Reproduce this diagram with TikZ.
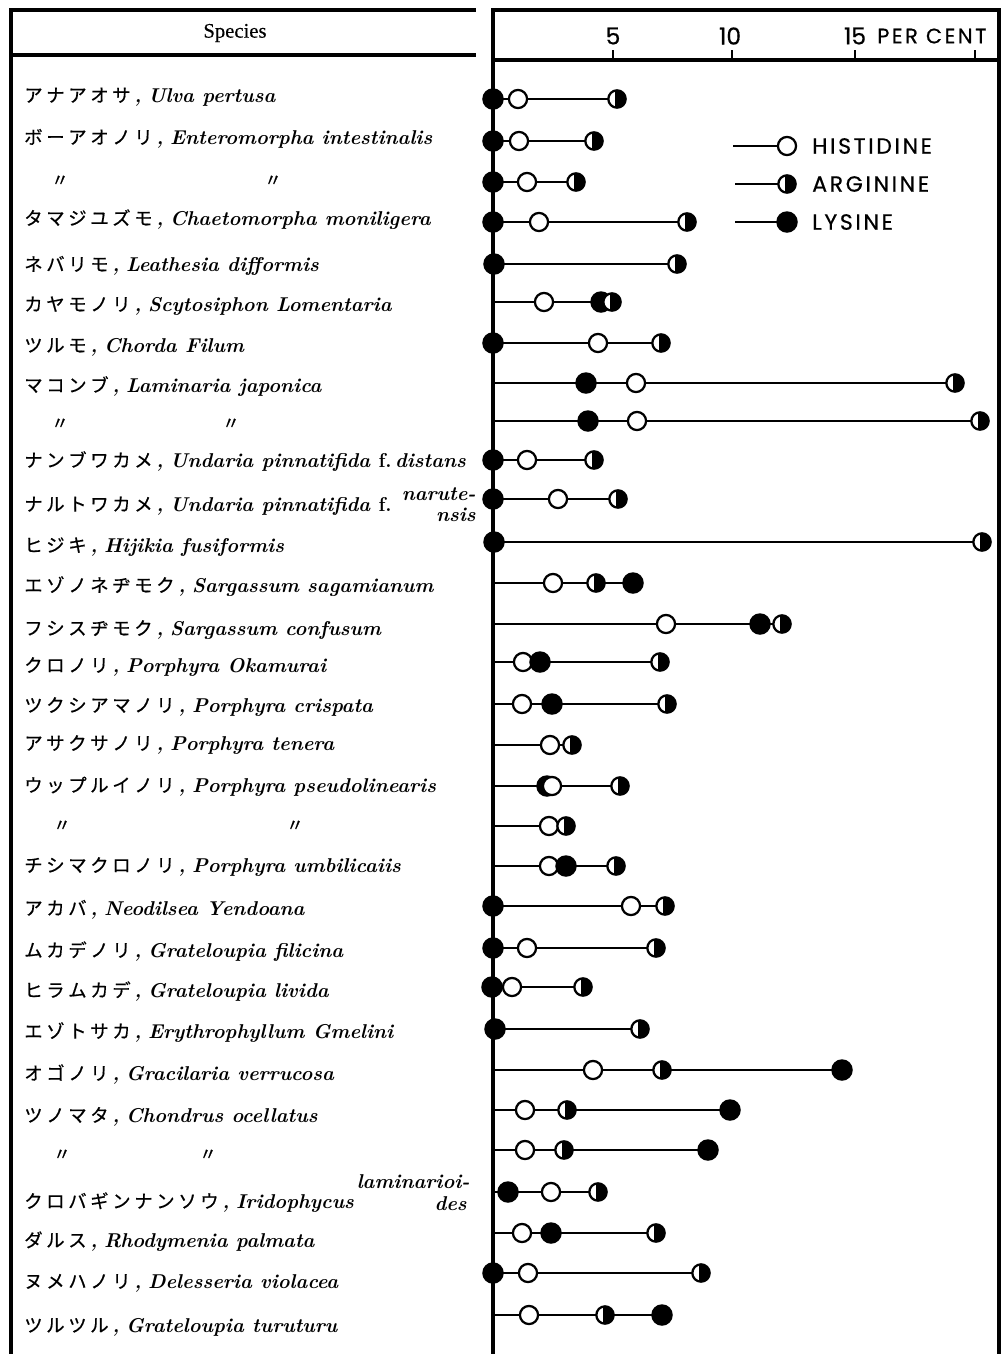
\documentclass[tikz,border=0pt]{standalone}
\usepackage{fontspec}
\newfontfamily\jp[FakeBold=0.5]{Noto Sans CJK JP}
\newfontfamily\tms[FakeBold=0.3]{Liberation Serif}
\newfontfamily\geo[FakeBold=0.6]{Poppins}
\newfontfamily\geos[LetterSpace=12,FakeBold=0.6]{Poppins}
\usetikzlibrary{backgrounds}
\pgfdeclarelayer{paper}
\pgfsetlayers{paper,background,main}
\makeatletter
\def\kana#1{\kana@i#1\relax}
\def\kana@i#1{\ifx\relax#1\else\makebox[16.5pt][l]{#1}\expandafter\kana@i\fi}
\makeatother
\newcommand\jpk[1]{{\jp\mdseries\upshape\fontsize{13.8}{14}\selectfont\kana{#1}},\hspace{5pt}}
\begin{document}
\begin{tikzpicture}[x=0.75pt,y=-0.75pt,
 conn/.style={line width=2.1pt},
 frame/.style={line width=2.3pt},
 tick/.style={line width=1.4pt},
 his/.style={circle,draw,fill=white,line width=1.7pt,minimum size=13.6pt,inner sep=0pt},
 lys/.style={circle,draw,fill=black,line width=1.7pt,minimum size=14.4pt,inner sep=0pt},
 arg/.style={circle,draw,fill=white,line width=1.7pt,minimum size=13pt,inner sep=0pt,
   path picture={\fill[black] ([xshift=-1.3pt]path picture bounding box.north) rectangle (path picture bounding box.south east);}},
 sp/.style={anchor=base west,inner sep=0pt,font=\fontsize{15}{18}\selectfont\bfseries\itshape},
 spr/.style={anchor=base east,inner sep=0pt,font=\fontsize{15}{18}\selectfont\bfseries\itshape},
 ditto/.style={inner sep=0pt,font=\jp\fontsize{13}{15}\selectfont},
 num/.style={inner sep=0pt,font=\geo\fontsize{17.5}{20}\selectfont},
 leg/.style={anchor=west,inner sep=0pt,font=\geos\fontsize{16.5}{20}\selectfont},
]
\useasboundingbox (0,0) rectangle (1006,1354);
\begin{pgfonlayer}{paper}
\fill[white] (0,0) rectangle (1006,1354);
\end{pgfonlayer}

% ---------- frames ----------
\coordinate (lt0) at (9,10);  \coordinate (lt1) at (476,10);
\coordinate (lh0) at (9,55);  \coordinate (lh1) at (476,55);
\coordinate (lb0) at (11,8);  \coordinate (lb1) at (11,1354);
\draw[frame] (lt0) -- (lt1);
\draw[frame] (lh0) -- (lh1);
\draw[line width=3pt] (lb0) -- (lb1);
\coordinate (ct0) at (493,10);  \coordinate (ct1) at (999,10);
\coordinate (ch0) at (493,60);  \coordinate (ch1) at (999,60);
\coordinate (cr1) at (999,1354);
\coordinate (axT) at (493,8);   \coordinate (axB) at (493,1354);
\draw[frame] (ct0) -- (ct1) -- (cr1);
\draw[frame] (ch0) -- (ch1);
\draw[line width=2.5pt] (axT) -- (axB);
\foreach \x/\n in {613/a,732/b,855/c,975/d}{
  \coordinate (tk\n0) at (\x,50); \coordinate (tk\n1) at (\x,60);
  \draw[tick] (tk\n0) -- (tk\n1);}

% ---------- header texts ----------
\node[inner sep=0pt,font=\tms\fontsize{15.5}{18}\selectfont] (species) at (235,33) {Species};
\node[num] (n5) at (613,36) {5};
\node[num] (n10) at (730,36) {10};
\node[num] (n15) at (855,36) {15};
\node[leg,font=\geos\fontsize{15.7}{18}\selectfont] (pc) at (877,36) {PER CENT};

% ---------- legend ----------
\node[his] (lgh) at (787,146) {};
\node[arg] (lga) at (787,184) {};
\node[lys] (lgl) at (787,222) {};
\coordinate (lgh0) at (733,146);
\coordinate (lga0) at (735,184);
\coordinate (lgl0) at (735,222);
\node[leg] (lth) at (812,146) {HISTIDINE};
\node[leg] (lta) at (812,184) {ARGININE};
\node[leg] (ltl) at (812,222) {LYSINE};

% ---------- species labels ----------
\node[sp] (t1) at (24,102) {\jpk{アナアオサ}Ulva pertusa};
\node[sp] (t2) at (24,144) {\jpk{ボーアオノリ}Enteromorpha intestinalis};
\node[ditto] (t3a) at (60,181) {〃}; \node[ditto] (t3b) at (273,181) {〃};
\node[sp] (t4) at (24,225) {\jpk{タマジユズモ}Chaetomorpha moniligera};
\node[sp] (t5) at (24,271) {\jpk{ネバリモ}Leathesia difformis};
\node[sp] (t6) at (24,311) {\jpk{カヤモノリ}Scytosiphon Lomentaria};
\node[sp] (t7) at (24,352) {\jpk{ツルモ}Chorda Filum};
\node[sp] (t8) at (24,392) {\jpk{マコンブ}Laminaria japonica};
\node[ditto] (t9a) at (60,424) {〃}; \node[ditto] (t9b) at (231,424) {〃};
\node[sp] (t10) at (24,467) {\jpk{ナンブワカメ}Undaria pinnatifida {\upshape f.}\,distans};
\node[sp] (t11) at (24,511) {\jpk{ナルトワカメ}Undaria pinnatifida {\upshape f.}};
\node[spr] (t11a) at (476,500) {narute-};
\node[spr] (t11b) at (476,521) {nsis};
\node[sp] (t12) at (24,552) {\jpk{ヒジキ}Hijikia fusiformis};
\node[sp] (t13) at (24,592) {\jpk{エゾノネヂモク}Sargassum sagamianum};
\node[sp] (t14) at (24,635) {\jpk{フシスヂモク}Sargassum confusum};
\node[sp] (t15) at (24,672) {\jpk{クロノリ}Porphyra Okamurai};
\node[sp] (t16) at (24,712) {\jpk{ツクシアマノリ}Porphyra crispata};
\node[sp] (t17) at (24,750) {\jpk{アサクサノリ}Porphyra tenera};
\node[sp] (t18) at (24,792) {\jpk{ウップルイノリ}Porphyra pseudolinearis};
\node[ditto] (t19a) at (62,826) {〃}; \node[ditto] (t19b) at (295,826) {〃};
\node[sp] (t20) at (24,872) {\jpk{チシマクロノリ}Porphyra umbilicaiis};
\node[sp] (t21) at (24,915) {\jpk{アカバ}Neodilsea Yendoana};
\node[sp] (t22) at (24,957) {\jpk{ムカデノリ}Grateloupia filicina};
\node[sp] (t23) at (24,997) {\jpk{ヒラムカデ}Grateloupia livida};
\node[sp] (t24) at (24,1038) {\jpk{エゾトサカ}Erythrophyllum Gmelini};
\node[sp] (t25) at (24,1080) {\jpk{オゴノリ}Gracilaria verrucosa};
\node[sp] (t26) at (24,1122) {\jpk{ツノマタ}Chondrus ocellatus};
\node[ditto] (t27a) at (62,1155) {〃}; \node[ditto] (t27b) at (208,1155) {〃};
\node[sp] (t28) at (24,1208) {\jpk{クロバギンナンソウ}Iridophycus};
\node[spr] (t28a) at (470,1188) {laminarioi-};
\node[spr] (t28b) at (467,1210) {des};
\node[sp] (t29) at (24,1247) {\jpk{ダルス}Rhodymenia palmata};
\node[sp] (t30) at (24,1288) {\jpk{ヌメハノリ}Delesseria violacea};
\node[sp] (t31) at (24,1332) {\jpk{ツルツル}Grateloupia turuturu};

% ---------- data markers ----------
\foreach \r/\y in {6/302,8/383,9/421,13/583,14/624,15/662,16/704,17/745,18/786,19/826,20/866,25/1070,26/1110,27/1150,28/1192,29/1233,31/1315}{
  \coordinate (r\r s) at (493,\y);}

\node[lys] (r1l) at (493,99) {}; \node[his] (r1h) at (518,99) {}; \node[arg] (r1a) at (617,99) {};
\node[lys] (r2l) at (493,141) {}; \node[his] (r2h) at (519,141) {}; \node[arg] (r2a) at (594,141) {};
\node[lys] (r3l) at (493,182) {}; \node[his] (r3h) at (527,182) {}; \node[arg] (r3a) at (576,182) {};
\node[lys] (r4l) at (493,222) {}; \node[his] (r4h) at (539,222) {}; \node[arg] (r4a) at (687,222) {};
\node[lys] (r5l) at (494,264) {}; \node[arg] (r5a) at (677,264) {};
\node[his] (r6h) at (544,302) {}; \node[lys] (r6l) at (601,302) {}; \node[arg] (r6a) at (612,302) {};
\node[lys] (r7l) at (493,343) {}; \node[his] (r7h) at (598,343) {}; \node[arg] (r7a) at (661,343) {};
\node[lys] (r8l) at (586,383) {}; \node[his] (r8h) at (636,383) {}; \node[arg] (r8a) at (955,383) {};
\node[lys] (r9l) at (588,421) {}; \node[his] (r9h) at (637,421) {}; \node[arg] (r9a) at (980,421) {};
\node[lys] (r10l) at (493,460) {}; \node[his] (r10h) at (527,460) {}; \node[arg] (r10a) at (594,460) {};
\node[lys] (r11l) at (493,499) {}; \node[his] (r11h) at (558,499) {}; \node[arg] (r11a) at (618,499) {};
\node[lys] (r12l) at (494,542) {}; \node[arg] (r12a) at (982,542) {};
\node[his] (r13h) at (553,583) {}; \node[arg] (r13a) at (596,583) {}; \node[lys] (r13l) at (633,583) {};
\node[his] (r14h) at (666,624) {}; \node[lys] (r14l) at (760,624) {}; \node[arg] (r14a) at (782,624) {};
\node[his] (r15h) at (523,662) {}; \node[lys] (r15l) at (540,662) {}; \node[arg] (r15a) at (660,662) {};
\node[his] (r16h) at (522,704) {}; \node[lys] (r16l) at (552,704) {}; \node[arg] (r16a) at (667,704) {};
\node[his] (r17h) at (550,745) {}; \node[arg] (r17a) at (572,745) {};
\node[lys] (r18l) at (547,786) {}; \node[his] (r18h) at (552,786) {}; \node[arg] (r18a) at (620,786) {};
\node[his] (r19h) at (549,826) {}; \node[arg] (r19a) at (566,826) {};
\node[his] (r20h) at (549,866) {}; \node[lys] (r20l) at (566,866) {}; \node[arg] (r20a) at (616,866) {};
\node[lys] (r21l) at (493,906) {}; \node[his] (r21h) at (631,906) {}; \node[arg] (r21a) at (665,906) {};
\node[lys] (r22l) at (493,948) {}; \node[his] (r22h) at (527,948) {}; \node[arg] (r22a) at (656,948) {};
\node[lys] (r23l) at (492,987) {}; \node[his] (r23h) at (512,987) {}; \node[arg] (r23a) at (583,987) {};
\node[lys] (r24l) at (495,1029) {}; \node[arg] (r24a) at (640,1029) {};
\node[his] (r25h) at (593,1070) {}; \node[arg] (r25a) at (662,1070) {}; \node[lys] (r25l) at (842,1070) {};
\node[his] (r26h) at (525,1110) {}; \node[arg] (r26a) at (567,1110) {}; \node[lys] (r26l) at (730,1110) {};
\node[his] (r27h) at (525,1150) {}; \node[arg] (r27a) at (564,1150) {}; \node[lys] (r27l) at (708,1150) {};
\node[lys] (r28l) at (508,1192) {}; \node[his] (r28h) at (551,1192) {}; \node[arg] (r28a) at (598,1192) {};
\node[his] (r29h) at (522,1233) {}; \node[lys] (r29l) at (551,1233) {}; \node[arg] (r29a) at (656,1233) {};
\node[lys] (r30l) at (493,1273) {}; \node[his] (r30h) at (528,1273) {}; \node[arg] (r30a) at (701,1273) {};
\node[his] (r31h) at (529,1315) {}; \node[arg] (r31a) at (605,1315) {}; \node[lys] (r31l) at (662,1315) {};

% ---------- connectors (behind markers) ----------
\begin{scope}[on background layer]
\draw[conn] (lgh0) -- (lgh.center);
\draw[conn] (lga0) -- (lga.center);
\draw[conn] (lgl0) -- (lgl.center);
\draw[conn] (r1l.center) -- (r1a.center);
\draw[conn] (r2l.center) -- (r2a.center);
\draw[conn] (r3l.center) -- (r3a.center);
\draw[conn] (r4l.center) -- (r4a.center);
\draw[conn] (r5l.center) -- (r5a.center);
\draw[conn] (r6s) -- (r6a.center);
\draw[conn] (r7l.center) -- (r7a.center);
\draw[conn] (r8s) -- (r8a.center);
\draw[conn] (r9s) -- (r9a.center);
\draw[conn] (r10l.center) -- (r10a.center);
\draw[conn] (r11l.center) -- (r11a.center);
\draw[conn] (r12l.center) -- (r12a.center);
\draw[conn] (r13s) -- (r13l.center);
\draw[conn] (r14s) -- (r14a.center);
\draw[conn] (r15s) -- (r15a.center);
\draw[conn] (r16s) -- (r16a.center);
\draw[conn] (r17s) -- (r17a.center);
\draw[conn] (r18s) -- (r18a.center);
\draw[conn] (r19s) -- (r19a.center);
\draw[conn] (r20s) -- (r20a.center);
\draw[conn] (r21l.center) -- (r21a.center);
\draw[conn] (r22l.center) -- (r22a.center);
\draw[conn] (r23l.center) -- (r23a.center);
\draw[conn] (r24l.center) -- (r24a.center);
\draw[conn] (r25s) -- (r25l.center);
\draw[conn] (r26s) -- (r26l.center);
\draw[conn] (r27s) -- (r27l.center);
\draw[conn] (r28s) -- (r28a.center);
\draw[conn] (r29s) -- (r29a.center);
\draw[conn] (r30l.center) -- (r30a.center);
\draw[conn] (r31s) -- (r31l.center);
\end{scope}
\end{tikzpicture}
\end{document}
